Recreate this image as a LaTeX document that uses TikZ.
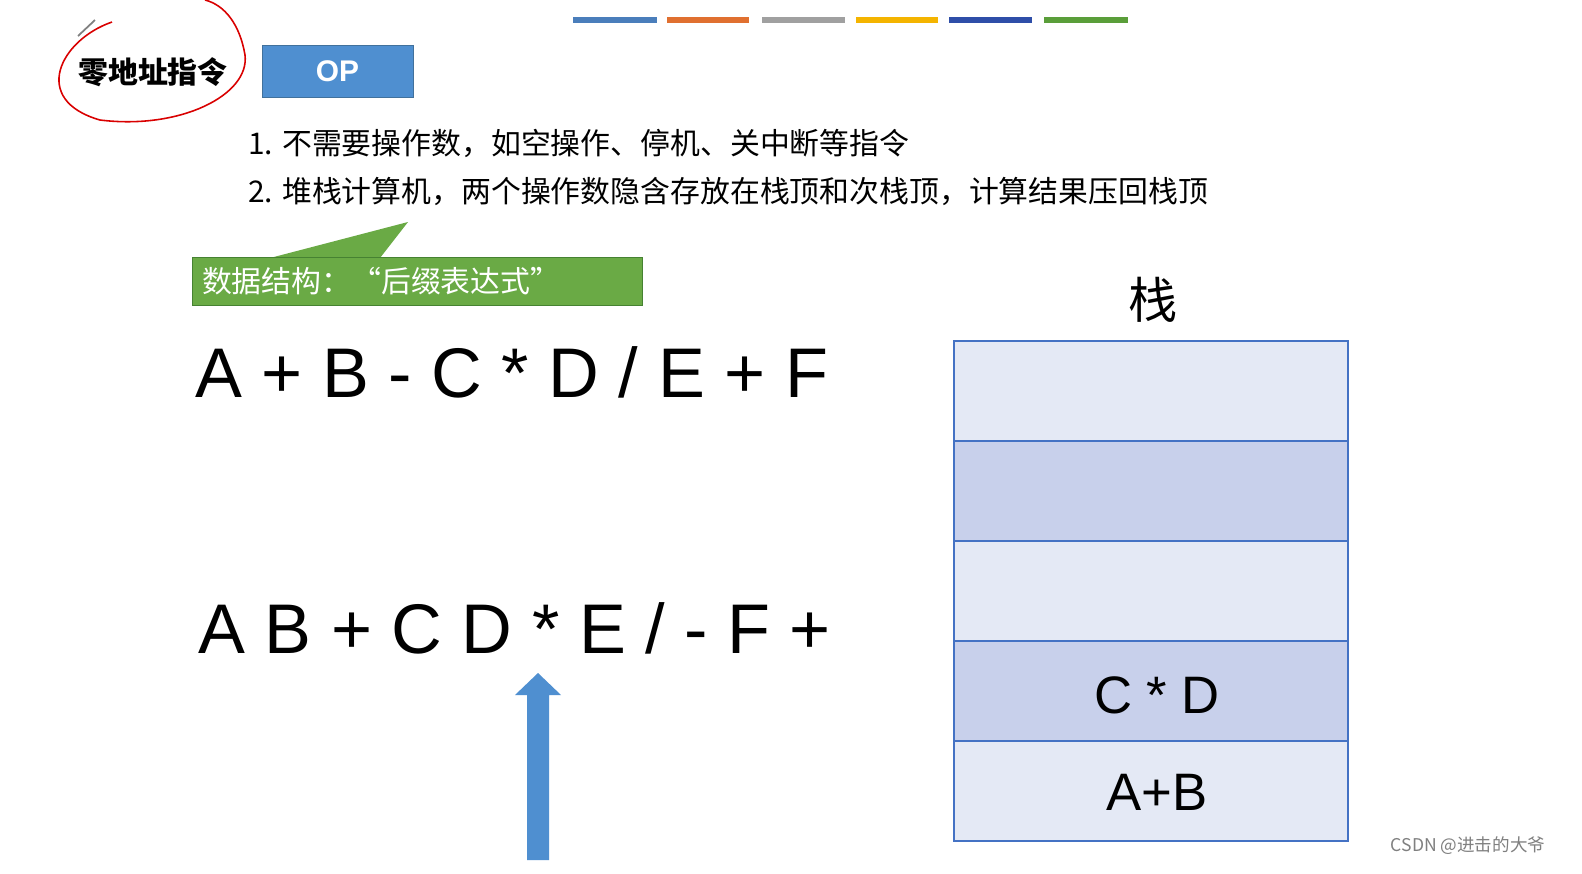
\documentclass[tikz,border=0pt]{standalone}
\usepackage{fontspec}
\setmainfont{Liberation Sans}
\newfontfamily\cjk{Noto Sans CJK SC}
\definecolor{cbA}{RGB}{74,126,187}
\definecolor{cbB}{RGB}{224,112,48}
\definecolor{cbC}{RGB}{160,160,160}
\definecolor{cbD}{RGB}{244,180,0}
\definecolor{cbE}{RGB}{46,78,168}
\definecolor{cbF}{RGB}{90,158,58}
\definecolor{opblue}{RGB}{79,143,208}
\definecolor{opedge}{RGB}{65,113,156}
\definecolor{callg}{RGB}{106,170,69}
\definecolor{calledge}{RGB}{70,130,50}
\definecolor{cellA}{RGB}{228,233,245}
\definecolor{cellB}{RGB}{200,208,235}
\definecolor{celledge}{RGB}{68,114,196}
\begin{document}
\begin{tikzpicture}[x=0.02cm,y=-0.02cm,
  bar/.style={line width=3.4pt},
  cell/.style={draw=celledge, line width=1pt},
  expr/.style={font=\fontsize{40}{44}\selectfont, anchor=west, inner sep=0},
  cn/.style={font=\cjk\fontsize{17}{20}\selectfont, anchor=west, inner sep=0}]
\useasboundingbox (0,0) rectangle (1582,873);
\fill[white] (0,0) rectangle (1582,873);
% color bars
\draw[bar,cbA] (573,20) -- (657,20);
\draw[bar,cbB] (667,20) -- (749,20);
\draw[bar,cbC] (762,20) -- (845,20);
\draw[bar,cbD] (856,20) -- (938,20);
\draw[bar,cbE] (949,20) -- (1032,20);
\draw[bar,cbF] (1044,20) -- (1128,20);
% red circle
\draw[red!85!black, line width=0.9pt] (112,22) .. controls (60,40) and (30,100) .. (100,120) .. controls (180,130) and (250,95) .. (245,55) .. controls (240,25) and (225,5) .. (205,0);
\draw[gray, line width=1pt] (78,36) -- (95,20);
\node[cn] (title) at (78,72) {\bfseries 零地址指令};
% OP
\node[fill=opblue, draw=opedge, minimum width=3.02cm, minimum height=1.04cm, text=white, font=\bfseries\fontsize{17}{20}\selectfont] (op) at (337.5,71) {OP};
\node[cn] (l1) at (248,143) {1. 不需要操作数，如空操作、停机、关中断等指令};
\node[cn] (l2) at (248,191) {2. 堆栈计算机，两个操作数隐含存放在栈顶和次栈顶，计算结果压回栈顶};
% green callout
\fill[callg] (270,258) -- (408,222) -- (380,258) -- cycle;
\node[fill=callg, draw=calledge, minimum width=9cm, minimum height=0.96cm, text=white, text width=8.6cm, font=\cjk\fontsize{17}{20}\selectfont] (ds) at (417,281) {数据结构：“后缀表达式”};
% expressions
\node[expr] (e1) at (195,372) {A + B - C * D / E + F};
\node[expr] (e2) at (198,628) {A B + C D * E / - F +};
% arrow
\fill[opblue] (527,860) -- (527,695) -- (515,695) -- (538,673) -- (561,695) -- (549,695) -- (549,860) -- cycle;
% stack
\node[font=\cjk\fontsize{28}{30}\selectfont] (zh) at (1153,300) {栈};
\foreach \i/\c in {0/cellA,1/cellB,2/cellA,3/cellB,4/cellA}{
  \filldraw[cell, fill=\c] (954,341+100*\i) rectangle (1348,441+100*\i);
}
\node[font=\fontsize{30}{32}\selectfont] (cd) at (1157,695) {C * D};
\node[font=\fontsize{30}{32}\selectfont] (ab) at (1157,792) {A+B};
\node[font=\cjk\fontsize{10}{12}\selectfont, text=gray] (wm) at (1468,846) {CSDN @进击的大爷};
\end{tikzpicture}
\end{document}
